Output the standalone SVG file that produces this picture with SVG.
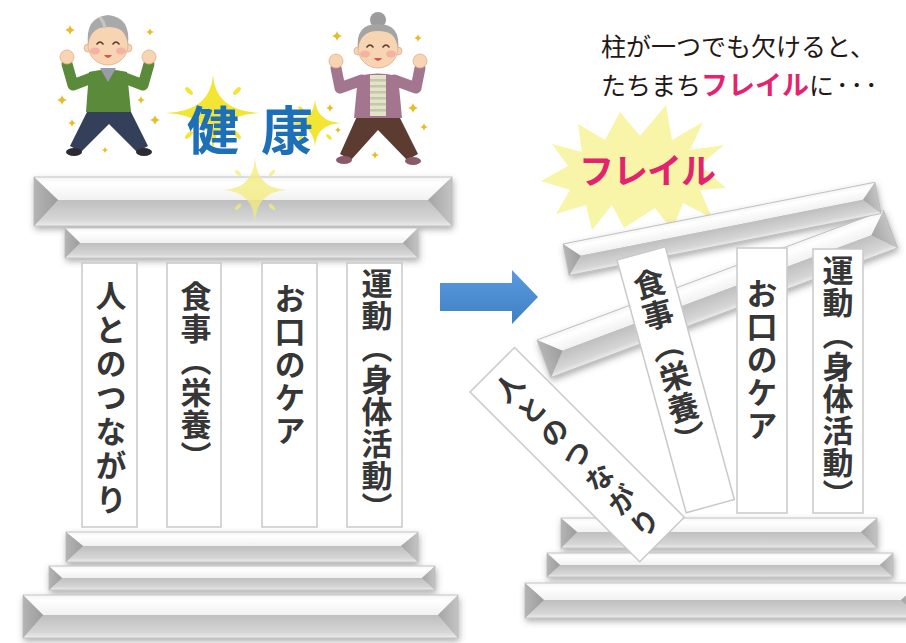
<svg xmlns="http://www.w3.org/2000/svg" width="906" height="643" viewBox="0 0 906 643">
  <defs>
    <style>
      .col { fill:#ffffff; stroke:#c9c9c9; stroke-width:1.5; }
      .vt { font-family:"Noto Sans CJK JP","Noto Sans CJK SC",sans-serif; font-weight:700; fill:#363636; writing-mode:vertical-rl; font-size:31px; letter-spacing:1px; }
      .top { fill:url(#gTop); }
      .bot { fill:url(#gBot); }
      .lt { fill:url(#gSideL); }
      .rt { fill:url(#gSideR); }
      .edge { fill:none; stroke:#b9b9b9; stroke-width:0.8; }
      .gold { fill:#e6be2c; }
      .skin { fill:#f7d4b2; stroke:#e3ad8c; stroke-width:0.8; }
      .eye { fill:none; stroke:#5b3b2b; stroke-width:1.6; stroke-linecap:round; }
      .cheek { fill:#f3a39a; opacity:0.7; }
      .mouth { fill:#d9534f; }
      .jp { font-family:"Noto Sans CJK JP","Noto Sans CJK SC",sans-serif; }
    </style>
    <linearGradient id="gTop" x1="0" y1="0" x2="0" y2="1">
      <stop offset="0" stop-color="#f4f4f4"/>
      <stop offset="0.3" stop-color="#ffffff"/>
      <stop offset="1" stop-color="#f1f1f1"/>
    </linearGradient>
    <linearGradient id="gBot" x1="0" y1="0" x2="0" y2="1">
      <stop offset="0" stop-color="#bfbfbf"/>
      <stop offset="0.75" stop-color="#d6d6d6"/>
      <stop offset="1" stop-color="#ececec"/>
    </linearGradient>
    <linearGradient id="gSideL" x1="0" y1="0" x2="1" y2="0">
      <stop offset="0" stop-color="#b4b4b4"/>
      <stop offset="1" stop-color="#9c9c9c"/>
    </linearGradient>
    <linearGradient id="gSideR" x1="0" y1="0" x2="1" y2="0">
      <stop offset="0" stop-color="#a4a4a4"/>
      <stop offset="1" stop-color="#c4c4c4"/>
    </linearGradient>
    <linearGradient id="gArrow" x1="0" y1="0" x2="0" y2="1">
      <stop offset="0" stop-color="#5a9be0"/>
      <stop offset="1" stop-color="#3f80c4"/>
    </linearGradient>
    <filter id="shadow" x="-10%" y="-40%" width="120%" height="190%">
      <feDropShadow dx="1" dy="3" stdDeviation="3" flood-color="#4a4a4a" flood-opacity="0.45"/>
    </filter>
    <filter id="glow" x="-50%" y="-50%" width="200%" height="200%">
      <feGaussianBlur stdDeviation="1.2"/>
    </filter>
    <!-- four-point star used for twinkles -->
    <path id="spk" d="M0,-1 Q0.18,-0.18 1,0 Q0.18,0.18 0,1 Q-0.18,0.18 -1,0 Q-0.18,-0.18 0,-1Z"/>
    <path id="ray" d="M0,-1 Q0.05,-0.05 1,0 Q0.05,0.05 0,1 Q-0.05,0.05 -1,0 Q-0.05,-0.05 0,-1Z"/>
  </defs>

  <rect width="906" height="643" fill="#ffffff"/>

  <!-- ===== Left: healthy temple ===== -->
  <g id="left-roof" filter="url(#shadow)">
    <g id="cornice-l">
      <polygon class="top" points="34,177 452,177 428,200 58,200"/>
      <polygon class="bot" points="58,200 428,200 452,226 34,226"/>
      <polygon class="lt" points="34,177 58,200 34,226"/>
      <polygon class="rt" points="452,177 428,200 452,226"/>
      <rect class="edge" x="34" y="177" width="418" height="49"/>
    </g>
    <g id="architrave-l">
      <polygon class="top" points="65,228 418,228 403,243 80,243"/>
      <polygon class="bot" points="80,243 403,243 418,258 65,258"/>
      <polygon class="lt" points="65,228 80,243 65,258"/>
      <polygon class="rt" points="418,228 403,243 418,258"/>
      <rect class="edge" x="65" y="228" width="353" height="30"/>
    </g>
  </g>

  <g id="left-base" filter="url(#shadow)">
    <g id="base-l1">
      <polygon class="top" points="66,532 418,532 401,546 83,546"/>
      <polygon class="bot" points="83,546 401,546 418,562 66,562"/>
      <polygon class="lt" points="66,532 83,546 66,562"/>
      <polygon class="rt" points="418,532 401,546 418,562"/>
      <rect class="edge" x="66" y="532" width="352" height="30"/>
    </g>
    <g id="base-l2">
      <polygon class="top" points="49,566 435,566 422,578 62,578"/>
      <polygon class="bot" points="62,578 422,578 435,590 49,590"/>
      <polygon class="lt" points="49,566 62,578 49,590"/>
      <polygon class="rt" points="435,566 422,578 435,590"/>
      <rect class="edge" x="49" y="566" width="386" height="24"/>
    </g>
    <g id="base-l3">
      <polygon class="top" points="23,595 458,595 438,615 43,615"/>
      <polygon class="bot" points="43,615 438,615 458,638 23,638"/>
      <polygon class="lt" points="23,595 43,615 23,638"/>
      <polygon class="rt" points="458,595 438,615 458,638"/>
      <rect class="edge" x="23" y="595" width="435" height="43"/>
    </g>
  </g>

  <g id="pillar-l1">
    <rect class="col" x="82" y="263" width="55" height="264"/>
    <text class="vt" x="111" y="280" style="letter-spacing:3px">人とのつながり</text>
  </g>
  <g id="pillar-l2">
    <rect class="col" x="167" y="263" width="54" height="264"/>
    <text class="vt" x="196" y="281">食事（栄養）</text>
  </g>
  <g id="pillar-l3">
    <rect class="col" x="262" y="263" width="55" height="264"/>
    <text class="vt" x="290" y="283" style="letter-spacing:2px">お口のケア</text>
  </g>
  <g id="pillar-l4">
    <rect class="col" x="347" y="263" width="55" height="264"/>
    <text class="vt" x="377" y="268">運動（身体活動）</text>
  </g>

  <!-- sparkles around the title -->
  <g id="sparkles-title">
    <g transform="translate(213,113)">
      <circle r="9" fill="#fbf5a0" filter="url(#glow)"/>
      <use href="#ray" transform="scale(47,38)" fill="#f2e534"/>
      <g fill="#f2e534">
        <ellipse cx="-24" cy="-22" rx="5" ry="2.2" transform="rotate(45 -24 -22)"/>
        <ellipse cx="24" cy="-22" rx="5" ry="2.2" transform="rotate(-45 24 -22)"/>
        <ellipse cx="-24" cy="22" rx="5" ry="2.2" transform="rotate(-45 -24 22)"/>
        <ellipse cx="24" cy="22" rx="5" ry="2.2" transform="rotate(45 24 22)"/>
      </g>
    </g>
    <g transform="translate(315,123)">
      <circle r="6" fill="#fbf5a0" filter="url(#glow)"/>
      <use href="#ray" transform="scale(26,24)" fill="#f2e534"/>
      <g fill="#f2e534">
        <ellipse cx="-14" cy="-14" rx="3.5" ry="1.6" transform="rotate(45 -14 -14)"/>
        <ellipse cx="14" cy="14" rx="3.5" ry="1.6" transform="rotate(45 14 14)"/>
        <ellipse cx="-14" cy="14" rx="3.5" ry="1.6" transform="rotate(-45 -14 14)"/>
      </g>
    </g>
    <g transform="translate(255,190)" opacity="0.75">
      <circle r="8" fill="#fbf6b0" filter="url(#glow)"/>
      <use href="#ray" transform="scale(31,33)" fill="#f3ec7a"/>
      <g fill="#f3ec7a">
        <ellipse cx="-17" cy="-17" rx="4" ry="1.8" transform="rotate(45 -17 -17)"/>
        <ellipse cx="17" cy="-17" rx="4" ry="1.8" transform="rotate(-45 17 -17)"/>
        <ellipse cx="-17" cy="17" rx="4" ry="1.8" transform="rotate(-45 -17 17)"/>
        <ellipse cx="17" cy="17" rx="4" ry="1.8" transform="rotate(45 17 17)"/>
      </g>
    </g>
  </g>

  <g id="title-health">
    <text class="jp" y="150" font-size="52" font-weight="700" fill="#1d6fb7"><tspan x="187">健</tspan><tspan x="261">康</tspan></text>
  </g>

  <!-- grandfather -->
  <g id="grandpa">
    <g class="gold">
      <use href="#spk" transform="translate(70,30) scale(5)"/>
      <use href="#spk" transform="translate(150,32) scale(4)"/>
      <use href="#spk" transform="translate(62,100) scale(5)"/>
      <use href="#spk" transform="translate(141,100) scale(4)"/>
      <use href="#spk" transform="translate(72,123) scale(4)"/>
      <use href="#spk" transform="translate(155,120) scale(5)"/>
      <use href="#spk" transform="translate(105,150) scale(3)"/>
    </g>
    <path d="M89,108 L129,108 L148,146 L137,152 L109,124 L81,152 L70,146 Z" fill="#34405a"/>
    <ellipse cx="74" cy="152" rx="8" ry="4" fill="#2b2b33"/>
    <ellipse cx="144" cy="152" rx="8" ry="4" fill="#2b2b33"/>
    <path d="M94,77 L73,85 L67,64" fill="none" stroke="#5b8a3a" stroke-width="11" stroke-linejoin="round" stroke-linecap="round"/>
    <path d="M122,77 L143,85 L149,64" fill="none" stroke="#5b8a3a" stroke-width="11" stroke-linejoin="round" stroke-linecap="round"/>
    <path d="M89,72 Q108,67 127,72 L131,112 L86,112 Z" fill="#5b8a3a"/>
    <path d="M100,68 L116,68 L108,82 Z" fill="#9b9cab"/>
    <circle class="skin" cx="67" cy="57" r="7"/>
    <circle class="skin" cx="149" cy="57" r="7"/>
    <circle class="skin" cx="88" cy="48" r="4"/>
    <circle class="skin" cx="128" cy="48" r="4"/>
    <circle class="skin" cx="108" cy="45" r="20"/>
    <path d="M88,45 Q85,17 108,15 Q131,17 128,45 Q126,30 116,28 Q108,26 100,28 Q90,31 88,45Z" fill="#a9a9a9"/>
    <path d="M100,17 Q104,22 105,28" fill="none" stroke="#c6c6c6" stroke-width="3"/>
    <path class="eye" d="M97,44 Q100,40 103,44"/>
    <path class="eye" d="M113,44 Q116,40 119,44"/>
    <ellipse class="cheek" cx="95" cy="51" rx="5" ry="3.5"/>
    <ellipse class="cheek" cx="121" cy="51" rx="5" ry="3.5"/>
    <path class="mouth" d="M104,55 Q108,61 112,55 Z"/>
  </g>

  <!-- grandmother -->
  <g id="grandma">
    <g class="gold">
      <use href="#spk" transform="translate(337,36) scale(5)"/>
      <use href="#spk" transform="translate(418,38) scale(4)"/>
      <use href="#spk" transform="translate(413,108) scale(5)"/>
      <use href="#spk" transform="translate(424,127) scale(4)"/>
      <use href="#spk" transform="translate(375,155) scale(4)"/>
      <use href="#spk" transform="translate(330,108) scale(4)"/>
      <use href="#spk" transform="translate(338,130) scale(3)"/>
    </g>
    <path d="M358,114 L398,114 L418,154 L407,160 L378,130 L351,160 L340,154 Z" fill="#5c3b31"/>
    <ellipse cx="344" cy="160" rx="8" ry="4" fill="#8a5a6a"/>
    <ellipse cx="413" cy="161" rx="8" ry="4" fill="#8a5a6a"/>
    <path d="M362,80 L340,88 L336,68" fill="none" stroke="#a3758e" stroke-width="11" stroke-linejoin="round" stroke-linecap="round"/>
    <path d="M394,80 L416,88 L420,68" fill="none" stroke="#a3758e" stroke-width="11" stroke-linejoin="round" stroke-linecap="round"/>
    <path d="M358,76 Q378,71 398,76 L402,118 L354,118 Z" fill="#a3758e"/>
    <rect x="370" y="75" width="16" height="41" fill="#e4e2c8"/>
    <g fill="#c2c8a8">
      <rect x="370" y="79" width="16" height="2.5"/>
      <rect x="370" y="85" width="16" height="2.5"/>
      <rect x="370" y="91" width="16" height="2.5"/>
      <rect x="370" y="97" width="16" height="2.5"/>
      <rect x="370" y="103" width="16" height="2.5"/>
      <rect x="370" y="109" width="16" height="2.5"/>
    </g>
    <circle class="skin" cx="336" cy="61" r="7"/>
    <circle class="skin" cx="420" cy="61" r="7"/>
    <circle cx="378" cy="20" r="8" fill="#9c9c9c"/>
    <circle class="skin" cx="358" cy="51" r="4"/>
    <circle class="skin" cx="398" cy="51" r="4"/>
    <circle class="skin" cx="378" cy="48" r="20"/>
    <path d="M358,49 Q355,24 378,24 Q401,24 398,49 Q396,34 386,32 Q378,30 370,32 Q360,35 358,49Z" fill="#a4a4a4"/>
    <path class="eye" d="M367,47 Q370,43 373,47"/>
    <path class="eye" d="M383,47 Q386,43 389,47"/>
    <ellipse class="cheek" cx="365" cy="54" rx="5" ry="3.5"/>
    <ellipse class="cheek" cx="391" cy="54" rx="5" ry="3.5"/>
    <path class="mouth" d="M374,58 Q378,64 382,58 Z"/>
  </g>

  <!-- ===== transition arrow ===== -->
  <g id="arrow">
    <polygon points="440,283 512,283 512,270 538,297 512,324 512,311 440,311" fill="url(#gArrow)"/>
  </g>

  <!-- ===== Right: collapsing temple ===== -->
  <g id="caption">
    <text class="jp" x="601" y="56" font-size="25" fill="#231815">柱が一つでも欠けると、</text>
    <text class="jp" x="601" y="95" font-size="25" fill="#231815">たちまち<tspan font-size="27" font-weight="700" fill="#e3236f">フレイル</tspan>に<tspan dx="2" letter-spacing="2">･･･</tspan></text>
  </g>

  <g id="frail-burst">
    <polygon points="666,105 672,140 703,122 690,150 724,145 700,165 726,188 700,190 712,218 683,203 672,230 655,208 624,228 612,205 592,230 586,205 556,214 570,190 541,181 568,166 552,144 582,152 578,124 605,140 620,112 640,136" fill="#f8f4a8"/>
    <text class="jp" x="579" y="184" font-size="35" font-weight="700" fill="#e3236f" letter-spacing="-1">フレイル</text>
  </g>

  <g id="right-base" filter="url(#shadow)">
    <g id="base-r1">
      <polygon class="top" points="561,518 877,518 861,532 577,532"/>
      <polygon class="bot" points="577,532 861,532 877,548 561,548"/>
      <polygon class="lt" points="561,518 577,532 561,548"/>
      <polygon class="rt" points="877,518 861,532 877,548"/>
      <rect class="edge" x="561" y="518" width="316" height="30"/>
    </g>
    <g id="base-r2">
      <polygon class="top" points="547,553 893,553 880,565 560,565"/>
      <polygon class="bot" points="560,565 880,565 893,577 547,577"/>
      <polygon class="lt" points="547,553 560,565 547,577"/>
      <polygon class="rt" points="893,553 880,565 893,577"/>
      <rect class="edge" x="547" y="553" width="346" height="24"/>
    </g>
    <g id="base-r3">
      <polygon class="top" points="525,583 920,583 901,600 544,600"/>
      <polygon class="bot" points="544,600 901,600 920,618 525,618"/>
      <polygon class="lt" points="525,583 544,600 525,618"/>
      <polygon class="rt" points="920,583 901,600 920,618"/>
      <rect class="edge" x="525" y="583" width="395" height="35"/>
    </g>
  </g>

  <g id="right-roof" filter="url(#shadow)">
    <g id="architrave-r" transform="translate(537,340) rotate(-20.5)">
      <polygon class="top" points="0,0 370,0 350,19 20,19"/>
      <polygon class="bot" points="20,19 350,19 370,40 0,40"/>
      <polygon class="lt" points="0,0 20,19 0,40"/>
      <polygon class="rt" points="370,0 350,19 370,40"/>
      <rect class="edge" x="0" y="0" width="370" height="40"/>
    </g>
    <g id="cornice-r" transform="translate(563,244) rotate(-11.2)">
      <polygon class="top" points="0,0 318,0 303,15 15,15"/>
      <polygon class="bot" points="15,15 303,15 318,32 0,32"/>
      <polygon class="lt" points="0,0 15,15 0,32"/>
      <polygon class="rt" points="318,0 303,15 318,32"/>
      <rect class="edge" x="0" y="0" width="318" height="32"/>
    </g>
  </g>

  <g id="pillar-r4">
    <rect class="col" x="813" y="249" width="50" height="264"/>
    <text class="vt" x="838" y="255">運動（身体活動）</text>
  </g>
  <g id="pillar-r3">
    <rect class="col" x="737" y="248" width="50" height="265"/>
    <text class="vt" x="762" y="278" style="letter-spacing:2px">お口のケア</text>
  </g>
  <g id="pillar-r2" transform="translate(617,260) rotate(-15.3)">
    <rect class="col" x="0" y="0" width="50" height="262"/>
    <text class="vt" x="25" y="16">食事（栄養）</text>
  </g>
  <g id="pillar-r1" transform="translate(470,392) rotate(-45)">
    <rect class="col" x="0" y="0" width="63" height="240"/>
    <text class="vt" x="31" y="10" style="font-size:28px;letter-spacing:4px">人とのつながり</text>
  </g>
</svg>
